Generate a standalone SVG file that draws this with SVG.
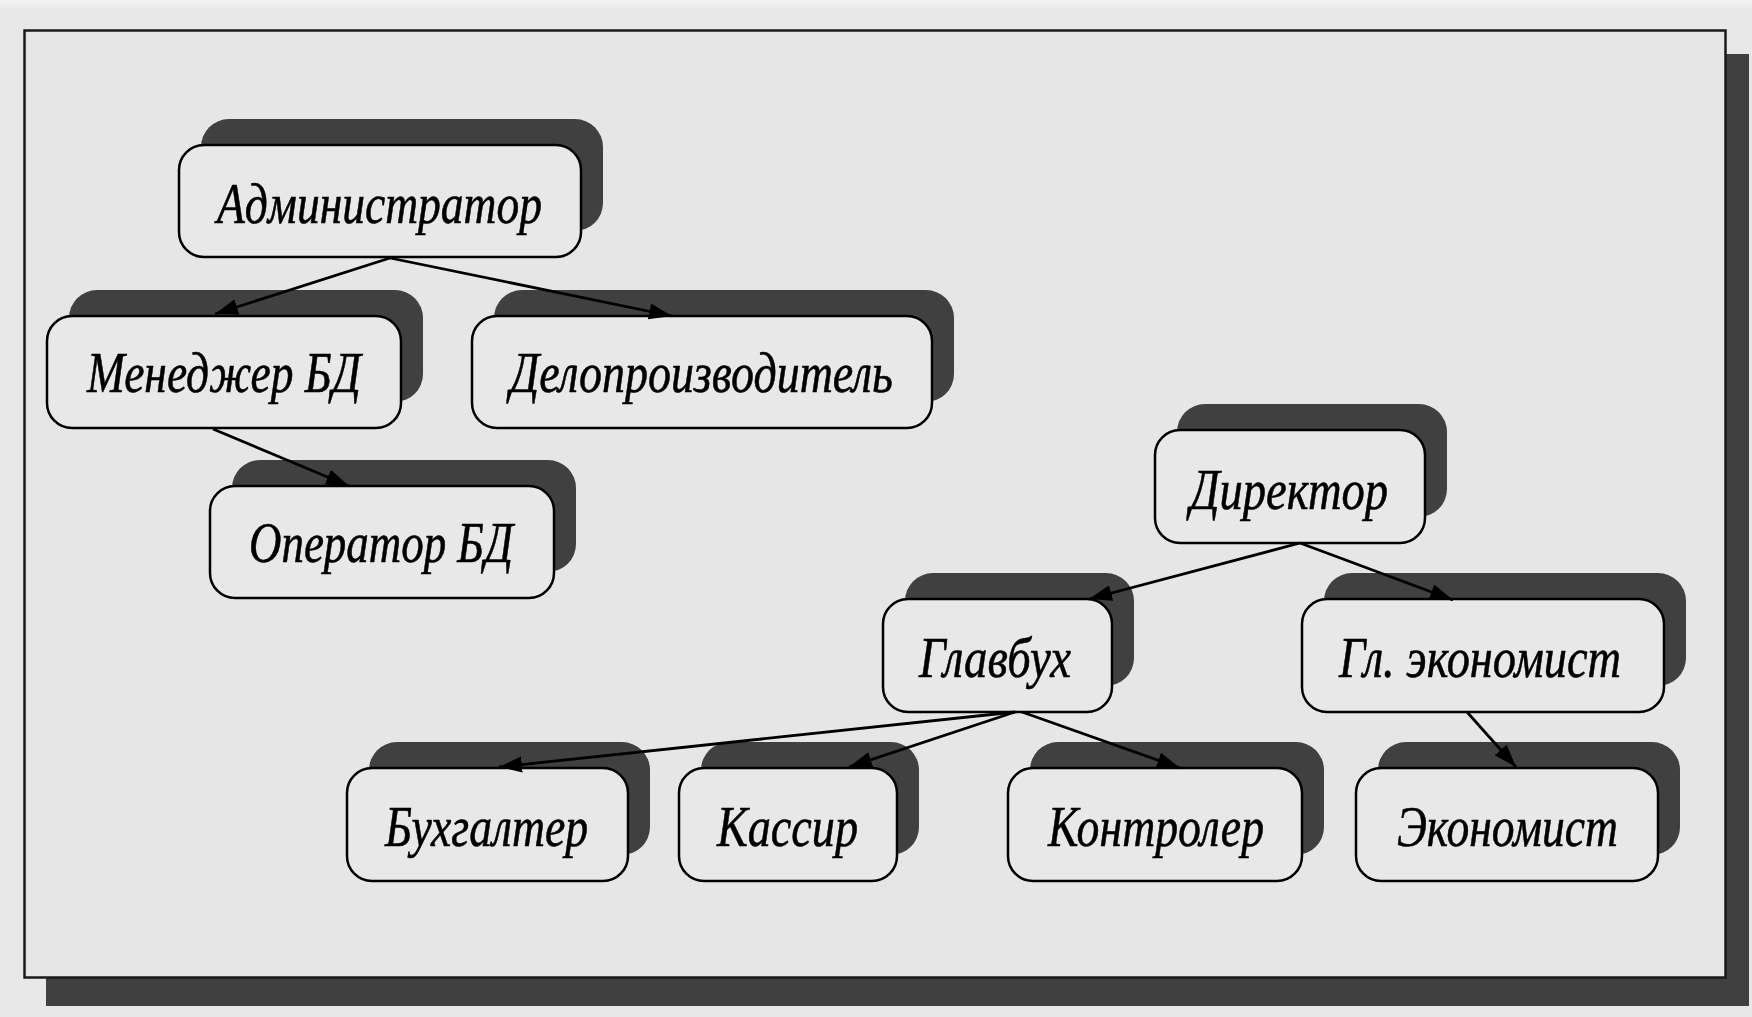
<svg xmlns="http://www.w3.org/2000/svg" width="1752" height="1017" viewBox="0 0 1752 1017">
<defs>
<linearGradient id="topg" x1="0" y1="0" x2="0" y2="1">
<stop offset="0" stop-color="#f4f4f4"/>
<stop offset="1" stop-color="#e8e8e8"/>
</linearGradient>
<marker id="arr" markerUnits="userSpaceOnUse" markerWidth="26" markerHeight="18" refX="23" refY="8" orient="auto" viewBox="0 0 26 18">
<path d="M0,0 L23,8 L0,16 z" fill="#000"/>
</marker>
</defs>
<style>
.sh{fill:#404040;}
.bx{fill:#e8e8e8;stroke:#000;stroke-width:2.5;}
.t{font-family:"Liberation Serif","Times New Roman",serif;font-style:italic;font-size:57px;fill:#000;stroke:#000;stroke-width:0.6;}
.cn line{stroke:#000;stroke-width:2.8;marker-end:url(#arr);}
</style>
<rect x="0" y="0" width="1752" height="1017" fill="#e8e8e8"/>
<rect x="0" y="0" width="1752" height="10" fill="url(#topg)"/>
<g id="frame">
<rect x="46" y="54" width="1703" height="952" fill="#404040"/>
<rect x="24.5" y="30.5" width="1701" height="947" fill="#e6e6e6" stroke="#1a1a1a" stroke-width="2.5"/>
</g>
<g id="n-admin">
<rect class="sh" x="201" y="119" width="402" height="112" rx="28"/>
<rect class="bx" x="179" y="145" width="402" height="112" rx="25"/>
<text class="t" x="217" y="223" textLength="325" lengthAdjust="spacingAndGlyphs">Администратор</text>
</g>
<g id="n-manager">
<rect class="sh" x="69" y="290" width="354" height="112" rx="28"/>
<rect class="bx" x="47" y="316" width="354" height="112" rx="25"/>
<text class="t" x="87" y="392" textLength="274" lengthAdjust="spacingAndGlyphs">Менеджер БД</text>
</g>
<g id="n-delo">
<rect class="sh" x="494" y="290" width="460" height="112" rx="28"/>
<rect class="bx" x="472" y="316" width="460" height="112" rx="25"/>
<text class="t" x="510" y="392" textLength="383" lengthAdjust="spacingAndGlyphs">Делопроизводитель</text>
</g>
<g id="n-operator">
<rect class="sh" x="232" y="460" width="344" height="112" rx="28"/>
<rect class="bx" x="210" y="486" width="344" height="112" rx="25"/>
<text class="t" x="249" y="562" textLength="264" lengthAdjust="spacingAndGlyphs">Оператор БД</text>
</g>
<g id="n-director">
<rect class="sh" x="1177" y="404" width="270" height="113" rx="28"/>
<rect class="bx" x="1155" y="430" width="270" height="113" rx="25"/>
<text class="t" x="1190" y="509" textLength="198" lengthAdjust="spacingAndGlyphs">Директор</text>
</g>
<g id="n-glavbuh">
<rect class="sh" x="905" y="573" width="229" height="113" rx="28"/>
<rect class="bx" x="883" y="599" width="229" height="113" rx="25"/>
<text class="t" x="919" y="677" textLength="152" lengthAdjust="spacingAndGlyphs">Главбух</text>
</g>
<g id="n-glecon">
<rect class="sh" x="1324" y="573" width="362" height="113" rx="28"/>
<rect class="bx" x="1302" y="599" width="362" height="113" rx="25"/>
<text class="t" x="1339" y="677" textLength="282" lengthAdjust="spacingAndGlyphs">Гл. экономист</text>
</g>
<g id="n-buh">
<rect class="sh" x="369" y="742" width="281" height="113" rx="28"/>
<rect class="bx" x="347" y="768" width="281" height="113" rx="25"/>
<text class="t" x="385" y="846" textLength="203" lengthAdjust="spacingAndGlyphs">Бухгалтер</text>
</g>
<g id="n-kassir">
<rect class="sh" x="701" y="742" width="218" height="113" rx="28"/>
<rect class="bx" x="679" y="768" width="218" height="113" rx="25"/>
<text class="t" x="717" y="846" textLength="141" lengthAdjust="spacingAndGlyphs">Кассир</text>
</g>
<g id="n-control">
<rect class="sh" x="1030" y="742" width="294" height="113" rx="28"/>
<rect class="bx" x="1008" y="768" width="294" height="113" rx="25"/>
<text class="t" x="1048" y="846" textLength="216" lengthAdjust="spacingAndGlyphs">Контролер</text>
</g>
<g id="n-econ">
<rect class="sh" x="1378" y="742" width="302" height="113" rx="28"/>
<rect class="bx" x="1356" y="768" width="302" height="113" rx="25"/>
<text class="t" x="1397" y="846" textLength="221" lengthAdjust="spacingAndGlyphs">Экономист</text>
</g>
<g id="connectors" class="cn">
<line x1="390" y1="258" x2="215" y2="314"/>
<line x1="390" y1="258" x2="672" y2="316"/>
<line x1="213" y1="429" x2="349" y2="486"/>
<line x1="1300" y1="543" x2="1089" y2="599"/>
<line x1="1300" y1="543" x2="1453" y2="600"/>
<line x1="1015" y1="712" x2="499" y2="767"/>
<line x1="1015" y1="712" x2="849" y2="767"/>
<line x1="1022" y1="712" x2="1180" y2="768"/>
<line x1="1467" y1="712" x2="1516" y2="767"/>
</g>
</svg>
